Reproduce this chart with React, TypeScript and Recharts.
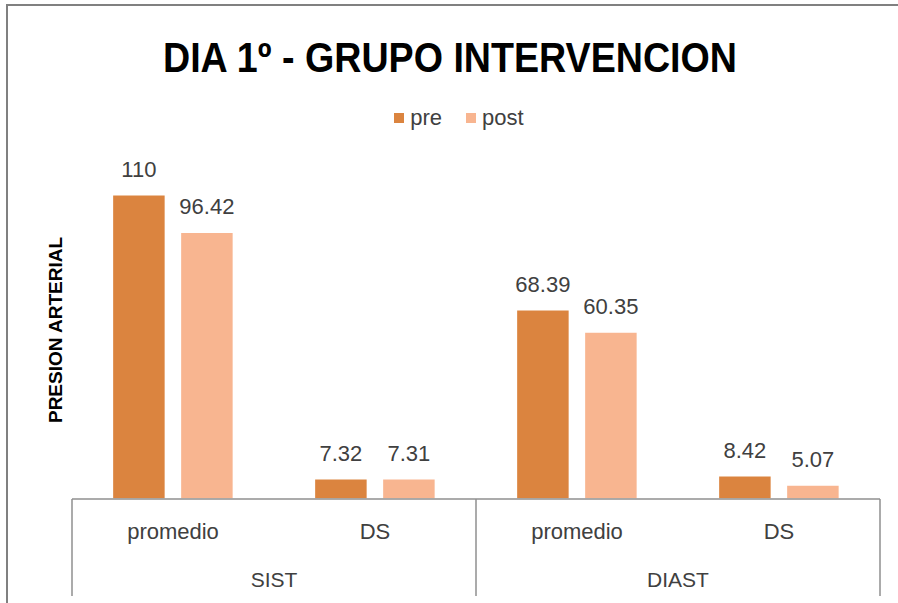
import { Bar, BarChart, LabelList, XAxis, YAxis } from "recharts"

const categories = ["promedio", "DS", "promedio", "DS"]
const groups = ["SIST", "SIST", "DIAST", "DIAST"]
const preValues = [110, 7.32, 68.39, 8.42]
const postValues = [96.42, 7.31, 60.35, 5.07]

const data = categories.map((cat, i) => ({
  cat,
  group: groups[i],
  pre: preValues[i],
  post: postValues[i],
}))

const W = 898
const H = 603
const AXIS_H = 30
const margin = { top: 167, right: 18, bottom: 104 - AXIS_H, left: 72 }
const plotW = W - margin.left - margin.right
const font = "'Liberation Sans', Arial, sans-serif"
const textColor = "#404040"
const lineColor = "#8f8f8f"

const CatTick = (props: any) => {
  const { x, y, index } = props
  const row = data[index]
  const band = plotW / data.length
  const isFirst = index === 0 || data[index - 1].group !== row.group
  const isLast = index === data.length - 1
  const count = data.filter((d) => d.group === row.group).length
  const left = x - band / 2
  return (
    <g>
      <text x={x} y={y + 40} textAnchor="middle" fill={textColor} fontSize={22} fontFamily={font}>
        {row.cat}
      </text>
      {isFirst && (
        <>
          <line x1={left} x2={left} y1={y} y2={y + 97} stroke={lineColor} strokeWidth={1.5} />
          <text x={left + (count * band) / 2} y={y + 88} textAnchor="middle" fill={textColor} fontSize={21} fontFamily={font}>
            {row.group}
          </text>
        </>
      )}
      {isLast && <line x1={x + band / 2} x2={x + band / 2} y1={y} y2={y + 97} stroke={lineColor} strokeWidth={1.5} />}
    </g>
  )
}

const legendItems = [
  { name: "pre", color: "#db843f" },
  { name: "post", color: "#f8b590" },
]

export default function App() {
  return (
    <div style={{ position: "absolute", left: 0, top: 0, width: W, height: H, background: "#fff", overflow: "hidden" }}>
      <div
        style={{
          position: "absolute",
          left: 6,
          top: 4,
          width: W,
          height: H,
          borderLeft: "2px solid #808080",
          borderTop: "2px solid #808080",
        }}
      />
      <svg width={W} height={H} style={{ position: "absolute", left: 0, top: 0 }}>
        <text
          x={450}
          y={72}
          textAnchor="middle"
          fontFamily={font}
          fontWeight="bold"
          fontSize={42}
          textLength={574}
          lengthAdjust="spacingAndGlyphs"
          fill="#000"
        >
          DIA 1º - GRUPO INTERVENCION
        </text>
        <text
          transform="translate(62,330) rotate(-90)"
          textAnchor="middle"
          fontFamily={font}
          fontWeight="bold"
          fontSize={19}
          textLength={186}
          lengthAdjust="spacingAndGlyphs"
          fill="#000"
        >
          PRESION ARTERIAL
        </text>
      </svg>
      <div
        style={{
          position: "absolute",
          left: 0,
          top: 105,
          width: W,
          display: "flex",
          justifyContent: "center",
          gap: 24,
          paddingLeft: 20,
          boxSizing: "border-box",
          fontFamily: font,
          fontSize: 22,
          color: textColor,
          lineHeight: "26px",
        }}
      >
        {legendItems.map((item) => (
          <div key={item.name} style={{ display: "flex", alignItems: "center", gap: 6 }}>
            <span style={{ width: 10, height: 10, background: item.color, display: "inline-block" }} />
            <span>{item.name}</span>
          </div>
        ))}
      </div>
      <div style={{ position: "absolute", left: 0, top: 0 }}>
        <BarChart width={W} height={H} data={data} margin={margin} barCategoryGap="20%" barGap={15}>
          <XAxis
            dataKey="cat"
            height={AXIS_H}
            axisLine={{ stroke: lineColor, strokeWidth: 1.5 }}
            tickLine={false}
            tickSize={0}
            tickMargin={0}
            interval={0}
            tick={<CatTick />}
          />
          <YAxis hide domain={[0, 120]} />
          <Bar dataKey="pre" fill="#db843f" stroke="#ffffff" strokeWidth={1.5} isAnimationActive={false}>
            <LabelList dataKey="pre" position="top" offset={18} fill={textColor} fontSize={22} fontFamily={font} />
          </Bar>
          <Bar dataKey="post" fill="#f8b590" stroke="#ffffff" strokeWidth={1.5} isAnimationActive={false}>
            <LabelList dataKey="post" position="top" offset={18} fill={textColor} fontSize={22} fontFamily={font} />
          </Bar>
        </BarChart>
      </div>
    </div>
  )
}
